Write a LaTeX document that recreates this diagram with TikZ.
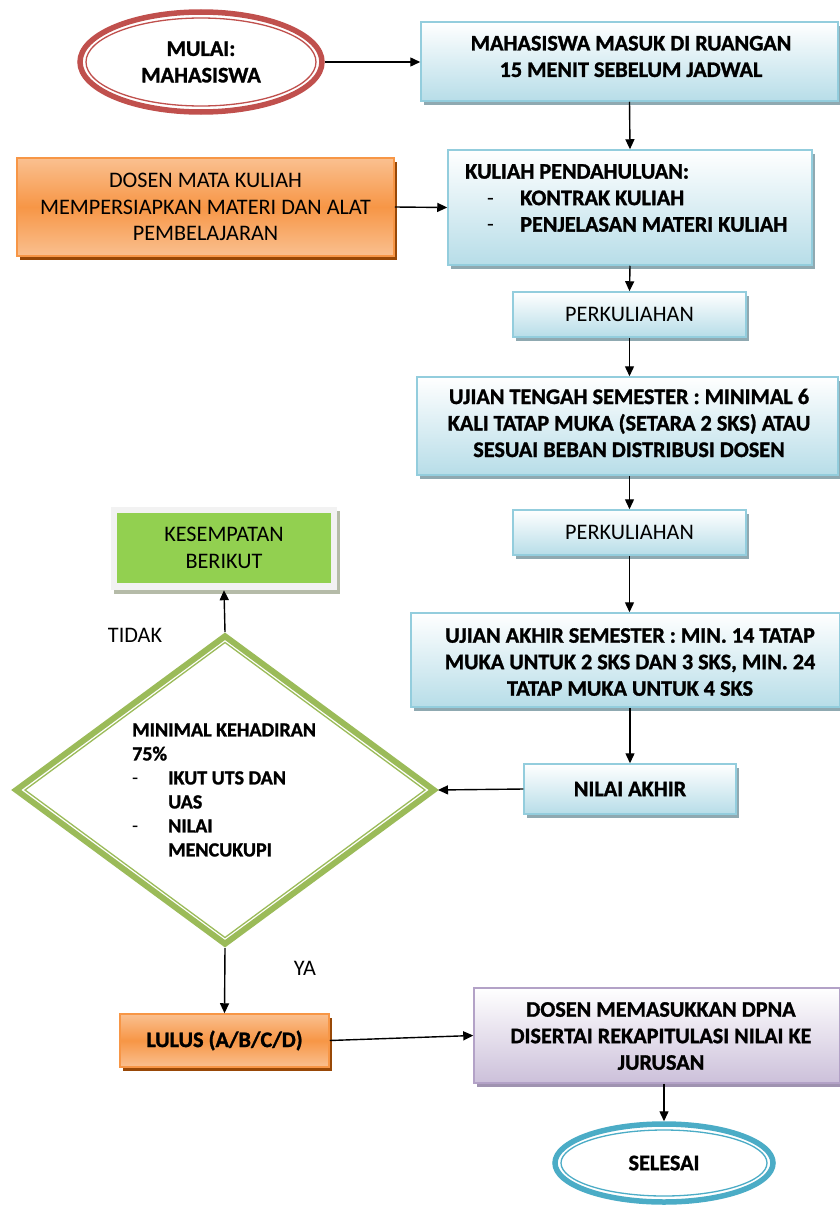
\documentclass[tikz,border=0pt]{standalone}
\usepackage{fontspec}
\setmainfont{Carlito}[BoldFeatures={FakeBold=1.3}]
\usetikzlibrary{arrows.meta,shapes.geometric}
\definecolor{bluebd}{HTML}{93CDDD}
\definecolor{bluebt}{HTML}{B7DDE8}
\definecolor{bluesh}{HTML}{8FA9B1}
\definecolor{orgD}{HTML}{F79646}
\definecolor{orgL}{HTML}{FAC090}
\definecolor{orgsh}{HTML}{984807}
\definecolor{purbd}{HTML}{B3A2C7}
\definecolor{purbt}{HTML}{CCC0DA}
\definecolor{pursh}{HTML}{A093B1}
\definecolor{grnF}{HTML}{92D050}
\definecolor{grnD}{HTML}{9BBB59}
\definecolor{redR}{HTML}{C0504D}
\definecolor{tealR}{HTML}{4BACC6}
\definecolor{frameG}{HTML}{F2F2F2}
\definecolor{frameSh}{HTML}{B5BBA8}
\begin{document}
\begin{tikzpicture}[x=1pt,y=-1pt,
  every node/.style={inner sep=0pt, align=center, font=\fontsize{22.2}{26.5}\selectfont},
  bluebox/.style={rectangle, draw=bluebd, line width=1.5pt, top color=white, bottom color=bluebt,
    preaction={fill=bluesh, transform canvas={shift={(3pt,-4pt)}}}},
  orgbox/.style={rectangle, draw=orgD, line width=1.5pt, top color=orgL, bottom color=orgL, middle color=orgD,
    preaction={fill=orgsh, transform canvas={shift={(3pt,-4pt)}}}},
  purbox/.style={rectangle, draw=purbd, line width=1.5pt, top color=white, bottom color=purbt,
    preaction={fill=pursh, transform canvas={shift={(3pt,-4pt)}}}},
  ring/.style={ellipse, fill=white, line width=5.5pt},
  arr/.style={draw=black, line width=1.4pt, -{Triangle[length=10pt,width=9pt]}}
]
\useasboundingbox (0,0) rectangle (840,1207);
\clip (0,0) rectangle (840,1207);

% start
\node[ring, draw=redR, minimum width=242pt, minimum height=100pt] (mulai) at (201,62) {\bfseries MULAI:\\\bfseries MAHASISWA};
\draw[redR, line width=1.3pt] (mulai.center) ellipse [x radius=115pt, y radius=44pt];

\node[bluebox, minimum width=417pt, minimum height=79pt] (b1) at (629.5,61.5) {};
\node (b1text) at (631,56.5) {\bfseries MAHASISWA MASUK DI RUANGAN\\\bfseries 15 MENIT SEBELUM JADWAL};

\node[bluebox, minimum width=364pt, minimum height=115pt] (kul) at (630,207.5) {};
\node[anchor=west, align=left] (kultext) at (465,198)
  {\bfseries KULIAH PENDAHULUAN:\\
   \hspace*{22pt}\makebox[33pt][l]{-}\bfseries KONTRAK KULIAH\\
   \hspace*{22pt}\makebox[33pt][l]{-}\bfseries PENJELASAN MATERI KULIAH};

\node[orgbox, minimum width=377pt, minimum height=98pt] (dosen) at (205.5,207)
  {DOSEN MATA KULIAH\\MEMPERSIAPKAN MATERI DAN ALAT\\PEMBELAJARAN};

\node[bluebox, minimum width=233pt, minimum height=45pt] (p1) at (629.5,314.5) {PERKULIAHAN};

\node[bluebox, minimum width=421pt, minimum height=98pt] (uts) at (627.5,426) {};
\node (utstext) at (629,423)
  {\bfseries UJIAN TENGAH SEMESTER : MINIMAL 6\\\bfseries KALI TATAP MUKA (SETARA 2 SKS) ATAU\\\bfseries SESUAI BEBAN DISTRIBUSI DOSEN};

\node[bluebox, minimum width=233pt, minimum height=45pt] (p2) at (629.5,532.5) {PERKULIAHAN};

\node[bluebox, minimum width=429pt, minimum height=94pt] (uas) at (625.5,660) {};
\node (uastext) at (630,662)
  {\bfseries UJIAN AKHIR SEMESTER : MIN. 14 TATAP\\\bfseries MUKA UNTUK 2 SKS DAN 3 SKS, MIN. 24\\\bfseries TATAP MUKA UNTUK 4 SKS};

\node[bluebox, minimum width=212pt, minimum height=50pt] (nilai) at (630,789) {\bfseries NILAI AKHIR};

% decision
\node[diamond, draw=grnD, fill=white, line width=6pt, minimum width=420pt, minimum height=310pt] (dia) at (225,790) {};
\draw[grnD, line width=1.3pt] (225,642.5) -- (425,790) -- (225,937.5) -- (25,790) -- cycle;
\node[anchor=west, align=left, font=\fontsize{20}{24}\selectfont\bfseries] (diatext) at (132,790)
  {MINIMAL KEHADIRAN\\75\%\\
   \makebox[36pt][l]{\mdseries -}IKUT UTS DAN\\\hspace*{36pt}UAS\\
   \makebox[36pt][l]{\mdseries -}NILAI\\\hspace*{36pt}MENCUKUPI};

\node[rectangle, fill=frameG, minimum width=226pt, minimum height=83pt,
  preaction={fill=frameSh, transform canvas={shift={(3pt,-4pt)}}}] (kframe) at (224,548.5) {};
\node[rectangle, fill=grnF, minimum width=214pt, minimum height=70pt] (kes) at (224,548) {KESEMPATAN\\BERIKUT};

\node (tidak) at (135,635) {TIDAK};
\node (ya) at (305,968) {YA};

\node[orgbox, minimum width=209pt, minimum height=53pt] (lulus) at (224.5,1040.5) {\bfseries LULUS (A/B/C/D)};

\node[purbox, minimum width=366pt, minimum height=95pt] (dpna) at (657,1035.5) {};
\node (dpnatext) at (661,1036)
  {\bfseries DOSEN MEMASUKKAN DPNA\\\bfseries DISERTAI REKAPITULASI NILAI KE\\\bfseries JURUSAN};

\node[ring, draw=tealR, minimum width=218pt, minimum height=78pt] (selesai) at (664,1163) {\bfseries SELESAI};
\draw[tealR, line width=1.3pt] (selesai.center) ellipse [x radius=103pt, y radius=33pt];

% connectors
\draw[arr] (mulai.east) -- (b1.west |- mulai.east);
\draw[arr] (b1.south) -- (kul.north);
\draw[arr] (dosen.east) -- (kul.west);
\draw[arr] (kul.south) -- (p1.north);
\draw[arr] (p1.south) -- (p1.south |- uts.north);
\draw[arr] (p2.north |- uts.south) -- (p2.north);
\draw[arr] (p2.south) -- (p2.south |- uas.north);
\draw[arr] (nilai.north |- uas.south) -- (nilai.north);
\draw[arr] (nilai.west) -- (dia.east);
\draw[arr] (dia.north) -- (kframe.south);
\draw[arr] (dia.south) -- (lulus.north);
\draw[arr] (lulus.east) -- (dpna.west);
\draw[arr] (dpna.south -| selesai.north) -- (selesai.north);
\end{tikzpicture}
\end{document}
